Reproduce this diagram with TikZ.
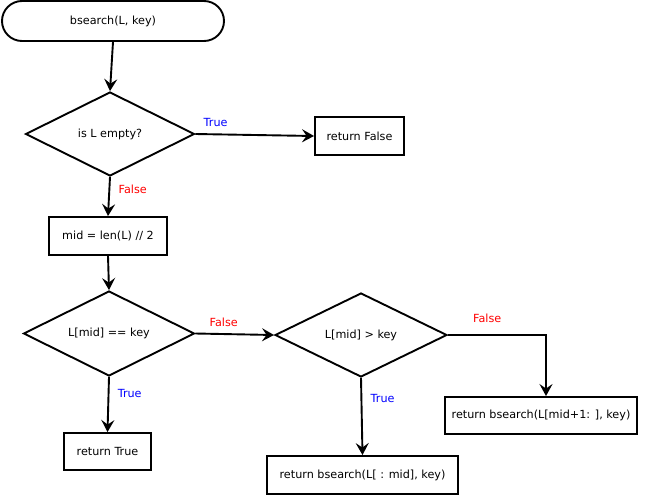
\documentclass[tikz,border=0pt]{standalone}
\usepackage{fontspec}
\setmainfont{DejaVu Sans}
\usetikzlibrary{shapes.geometric,arrows.meta}
\definecolor{truecol}{RGB}{0,0,255}
\definecolor{falsecol}{RGB}{255,0,0}
\tikzset{
  every node/.style={font=\fontsize{11.2}{13}\selectfont},
  terminal/.style={draw, line width=1.9pt, rounded corners=20pt, minimum width=222pt, minimum height=40pt, inner sep=0pt},
  decision/.style={draw, line width=1.9pt, diamond, aspect=2, inner sep=0pt},
  process/.style={draw, line width=1.9pt, rectangle, minimum height=38pt, inner sep=0pt},
  flow/.style={line width=1.9pt, -{Stealth[length=12pt,width=13pt,inset=4.5pt]}},
  yes/.style={text=truecol},
  no/.style={text=falsecol}
}
\begin{document}
\begin{tikzpicture}[x=1pt,y=-1pt]
  \useasboundingbox (0,0) rectangle (650,496);

  % start of the search
  \node[terminal] (start) at (113,21) {bsearch(L, key)};

  % empty-list test
  \node[decision, minimum width=169pt, minimum height=84pt] (empty) at (110,134) {is L empty?};
  \node[process, minimum width=89pt] (retfalse) at (359.5,136) {return False};

  % midpoint
  \node[process, minimum width=118pt] (mid) at (108,236) {mid = len(L) // 2};

  % comparisons
  \node[decision, minimum width=171pt, minimum height=85pt] (eq) at (109,333.5) {L[mid] == key};
  \node[decision, minimum width=172pt, minimum height=84pt] (gt) at (361,335) {L[mid] > key};

  % results
  \node[process, minimum width=87pt, minimum height=37pt] (rettrue) at (107.5,451.5) {return True};
  \node[process, minimum width=191pt] (retleft) at (362.5,475) {return bsearch(L[ : mid], key)};
  \node[process, minimum width=192pt, minimum height=37pt] (retright) at (541,415.5) {return bsearch(L[mid+1: ], key)};

  % connectors
  \draw[flow] (start.south) -- (empty.north);
  \draw[flow] (empty.east) -- node[yes, pos=0.17, above=3pt] {True} (retfalse.west);
  \draw[flow] (empty.south) -- node[no, pos=0.32, right=5pt] {False} (mid.north);
  \draw[flow] (mid.south) -- (eq.north);
  \draw[flow] (eq.south) -- node[yes, pos=0.3, right=5pt] {True} (rettrue.north);
  \draw[flow] (eq.east) -- node[no, pos=0.36, above=3pt] {False} (gt.west);
  \draw[flow] (gt.south) -- node[yes, pos=0.27, right=5pt] {True} (retleft.north);
  \draw[flow] (gt.east) -| node[no, pos=0.2, above=8pt] {False} (retright.north -| 546,0);
\end{tikzpicture}
\end{document}
